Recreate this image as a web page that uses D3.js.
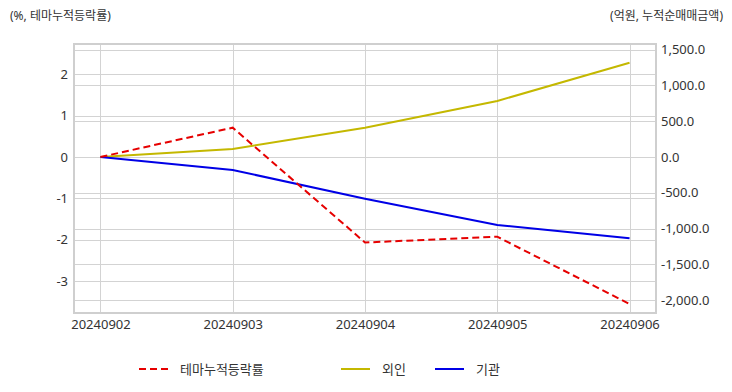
<!DOCTYPE html>
<html>
<head>
<meta charset="utf-8">
<script src="https://cdn.jsdelivr.net/npm/d3@7"></script>
<style>
  body { margin: 0; background: #fff; }
  text { font-family: "Noto Sans", "Noto Sans CJK KR", sans-serif; fill: #333; }
</style>
</head>
<body>
<div id="area"></div>
<script>
// chart data
var dates = ["20240902", "20240903", "20240904", "20240905", "20240906"];
var themeRate = [0, 0.71, -2.07, -1.93, -3.56];       // % (left axis)
var foreignNet = [0, 112, 409, 782, 1317];           // 억원 (right axis)
var instNet = [0, -182, -582, -950, -1136];          // 억원 (right axis)
var leftTicks = [-3, -2, -1, 0, 1, 2];
var rightTicks = [-2000, -1500, -1000, -500, 0, 500, 1000, 1500];

var width = 732, height = 392;
var plot = { left: 74, right: 656, top: 44, bottom: 313 };

var svg = d3.select('#area').append('svg')
	.attr('width', width).attr('height', height);

//plain hyphen for negatives, like the original
var locale = d3.formatLocale({ decimal: '.', thousands: ',', grouping: [3], currency: ['', ''], minus: '-' });

var x = d3.scalePoint().domain(dates).range([plot.left, plot.right]).padding(0.2);
var yL = d3.scaleLinear().domain([-3.777, 2.736]).range([plot.bottom, plot.top]);
var yR = d3.scaleLinear().domain([-2179, 1578]).range([plot.bottom, plot.top]);

//grid lines
var grid = svg.append('g').attr('stroke', '#d3d3d3').attr('stroke-width', 1);
grid.selectAll('.gl').data(leftTicks).enter().append('line')
	.attr('x1', plot.left).attr('x2', plot.right)
	.attr('y1', function(d){ return Math.round(yL(d)) + 0.5; })
	.attr('y2', function(d){ return Math.round(yL(d)) + 0.5; });
grid.selectAll('.gr').data(rightTicks).enter().append('line')
	.attr('x1', plot.left).attr('x2', plot.right)
	.attr('y1', function(d){ return Math.round(yR(d)) + 0.5; })
	.attr('y2', function(d){ return Math.round(yR(d)) + 0.5; });
grid.selectAll('.gx').data(dates).enter().append('line')
	.attr('y1', plot.top).attr('y2', plot.bottom)
	.attr('x1', function(d){ return Math.round(x(d)) + 0.5; })
	.attr('x2', function(d){ return Math.round(x(d)) + 0.5; });

//frame
svg.append('rect')
	.attr('x', plot.left).attr('y', plot.top)
	.attr('width', plot.right - plot.left).attr('height', plot.bottom - plot.top)
	.attr('fill', 'none').attr('stroke', '#cfcfcf').attr('stroke-width', 2);

//axes (labels only)
var leftAxis = svg.append('g').attr('transform', 'translate(' + plot.left + ',0)')
	.call(d3.axisLeft(yL).tickValues(leftTicks).tickSize(0).tickPadding(6).tickFormat(locale.format('d')));
var rightAxis = svg.append('g').attr('transform', 'translate(' + plot.right + ',0)')
	.call(d3.axisRight(yR).tickValues(rightTicks).tickSize(0).tickPadding(5).tickFormat(locale.format(',.1f')));
var bottomAxis = svg.append('g').attr('transform', 'translate(0,' + plot.bottom + ')')
	.call(d3.axisBottom(x).tickSize(0).tickPadding(4));
[leftAxis, rightAxis, bottomAxis].forEach(function(a){
	a.select('.domain').remove();
	a.selectAll('text').style('font-size', '13px').attr('fill', '#333');
});
bottomAxis.selectAll('text').attr('dy', '0.95em');

//series
var lineL = d3.line().x(function(d, i){ return x(dates[i]); }).y(function(d){ return yL(d); });
var lineR = d3.line().x(function(d, i){ return x(dates[i]); }).y(function(d){ return yR(d); });

svg.append('path').datum(foreignNet).attr('d', lineR)
	.attr('fill', 'none').attr('stroke', '#c4b800').attr('stroke-width', 2);
svg.append('path').datum(instNet).attr('d', lineR)
	.attr('fill', 'none').attr('stroke', '#0000e6').attr('stroke-width', 2);
svg.append('path').datum(themeRate).attr('d', lineL)
	.attr('fill', 'none').attr('stroke', '#e60000').attr('stroke-width', 2)
	.attr('stroke-dasharray', '7,4');

//axis titles
svg.append('text').attr('x', 10).attr('y', 20).style('font-size', '12px')
	.text('(%, 테마누적등락률)');
svg.append('text').attr('x', 723).attr('y', 20).attr('text-anchor', 'end').style('font-size', '12px')
	.text('(억원, 누적순매매금액)');

//legend
var legendItems = [
	{ name: '테마누적등락률', color: '#e60000', dash: '7,4', x: 139 },
	{ name: '외인', color: '#c4b800', dash: null, x: 341 },
	{ name: '기관', color: '#0000e6', dash: null, x: 435 }
];
var legend = svg.append('g').attr('transform', 'translate(0,369)');
legendItems.forEach(function(it){
	legend.append('line').attr('x1', it.x).attr('x2', it.x + 29).attr('y1', 0).attr('y2', 0)
		.attr('stroke', it.color).attr('stroke-width', 2)
		.attr('stroke-dasharray', it.dash);
	legend.append('text').attr('x', it.x + 41).attr('y', 0).attr('dy', '0.35em')
		.style('font-size', '13px').text(it.name);
});
</script>
</body>
</html>
